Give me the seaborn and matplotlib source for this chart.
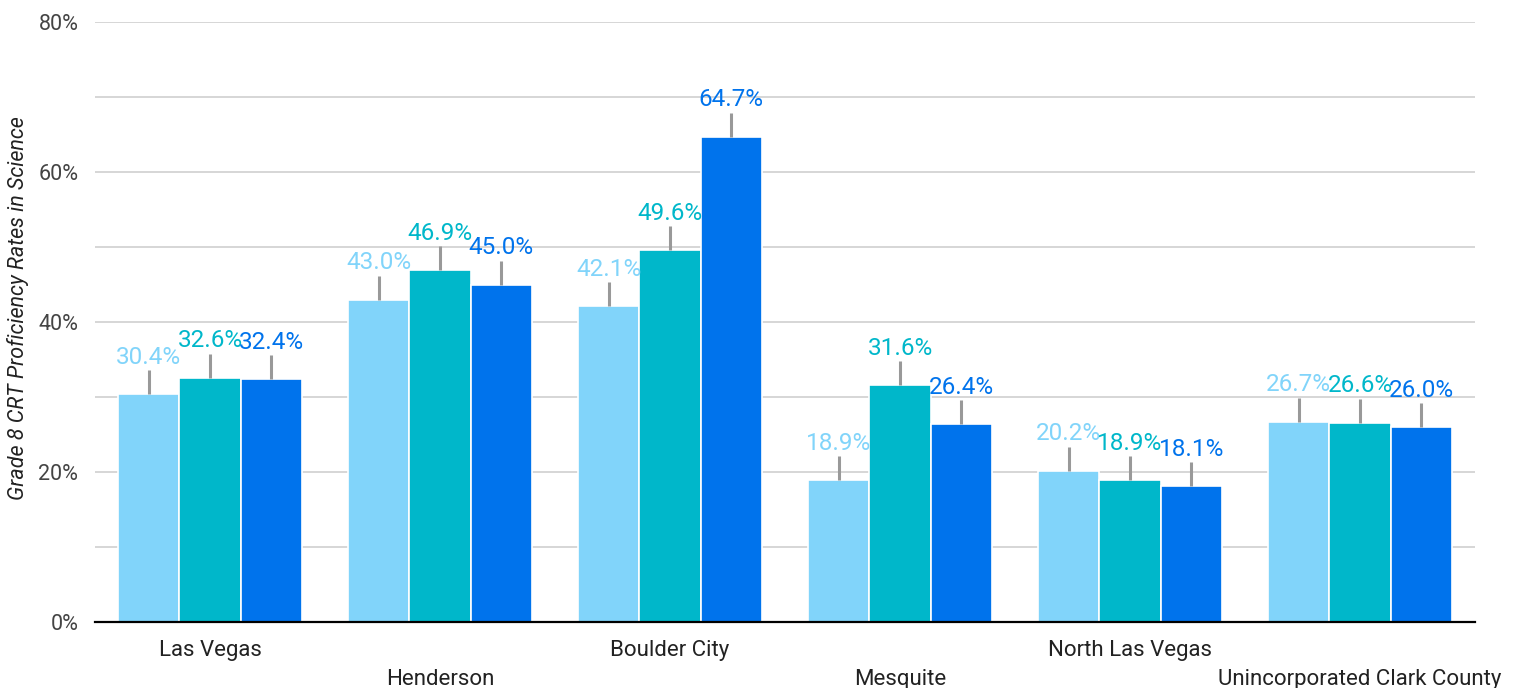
import matplotlib
matplotlib.use("Agg")
import matplotlib.pyplot as plt
import matplotlib.ticker as mticker
import seaborn as sns
import pandas as pd

# | Data |
cities = ["Las Vegas", "Henderson", "Boulder City", "Mesquite",
          "North Las Vegas", "Unincorporated Clark County"]
series = ["Series 1", "Series 2", "Series 3"]
rate_1 = [30.4, 43.0, 42.1, 18.9, 20.2, 26.7]
rate_2 = [32.6, 46.9, 49.6, 31.6, 18.9, 26.6]
rate_3 = [32.4, 45.0, 64.7, 26.4, 18.1, 26.0]
err_1 = [3.2, 3.2, 3.2, 3.2, 3.2, 3.2]
err_2 = [3.2, 3.2, 3.2, 3.2, 3.2, 3.2]
err_3 = [3.2, 3.2, 3.2, 3.2, 3.2, 3.2]
colors = ["#81D4FA", "#00B7CA", "#0073EC"]

rows = []
for s, vals in zip(series, [rate_1, rate_2, rate_3]):
    for c, v in zip(cities, vals):
        rows.append({"city": c, "series": s, "rate": v})
df = pd.DataFrame(rows)
errs = [err_1, err_2, err_3]
vals_all = [rate_1, rate_2, rate_3]

sns.set_theme(style="white")
plt.rcParams["font.family"] = ["Roboto", "DejaVu Sans"]

fig, ax = plt.subplots(figsize=(15.18, 6.88), dpi=100)
fig.subplots_adjust(left=0.0626, right=0.9717, top=0.968, bottom=0.0959)

sns.barplot(data=df, x="city", y="rate", hue="series", palette=colors,
            saturation=1, width=0.8, gap=0, errorbar=None, legend=False,
            edgecolor="white", linewidth=1.2, ax=ax, zorder=2)

for k, cont in enumerate(ax.containers):
    for j, patch in enumerate(cont):
        xc = patch.get_x() + patch.get_width() / 2
        top = vals_all[k][j]
        e = errs[k][j]
        ax.vlines(xc, top, top + e, color="#999999", lw=2.2, zorder=3)
        ax.annotate(f"{top:.1f}%", (xc, top + e), xytext=(0, 1),
                    textcoords="offset points", ha="center", va="bottom",
                    color=colors[k], fontsize=17.5, zorder=4)

ax.set_ylim(0, 80)
ax.set_xlim(-0.5, len(cities) - 0.5)
ax.yaxis.set_major_locator(mticker.MultipleLocator(20))
ax.yaxis.set_minor_locator(mticker.MultipleLocator(10))
ax.yaxis.set_major_formatter(mticker.FuncFormatter(lambda v, p: f"{v:.0f}%"))
ax.grid(axis="y", which="both", color="#cccccc", lw=1.1, zorder=0)
ax.set_axisbelow(True)
for s in ["left", "right", "top"]:
    ax.spines[s].set_visible(False)
ax.spines["bottom"].set_color("black")
ax.spines["bottom"].set_linewidth(1.6)
ax.spines["bottom"].set_zorder(5)

ax.tick_params(axis="y", which="both", length=0, labelsize=15.5, labelcolor="#444444", pad=12)
ax.tick_params(axis="x", length=0, labelsize=16, labelcolor="#222222")
for i, tick in enumerate(ax.xaxis.get_major_ticks()):
    tick.set_pad(13 if i % 2 == 0 else 34)

ax.set_xlabel("")
ax.set_ylabel("Grade 8 CRT Proficiency Rates in Science", fontsize=15.5,
              style="italic", color="#222222", va="center")
ax.yaxis.set_label_coords(-0.0558, 0.523)

fig.savefig("out.png", dpi=100)
